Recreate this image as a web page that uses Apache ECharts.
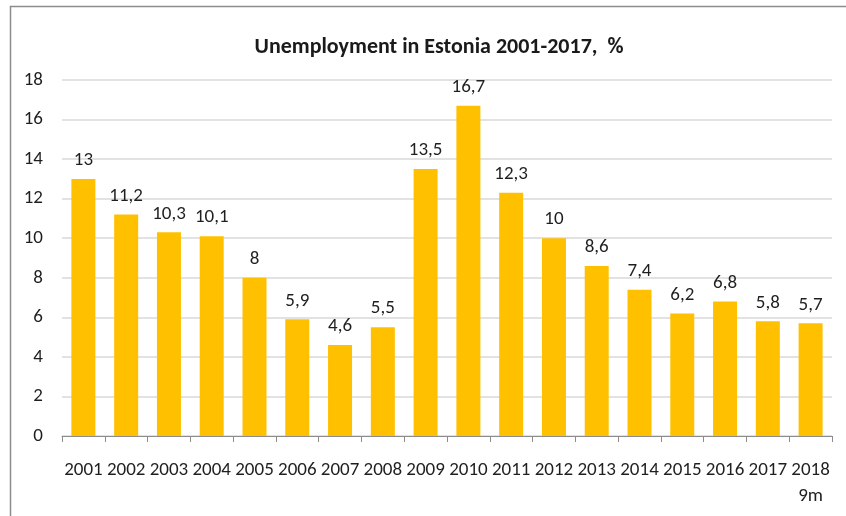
<!DOCTYPE html>
<html>
<head>
<meta charset="utf-8">
<script src="https://cdn.jsdelivr.net/npm/echarts@6/dist/echarts.min.js"></script>
<style>
	html, body { margin: 0; padding: 0; background: #fff; }
	#chart { width: 846px; height: 516px; }
</style>
</head>
<body>
<div id="chart"></div>
<script>
	var years = [ '2001', '2002', '2003', '2004', '2005', '2006', '2007', '2008', '2009', '2010', '2011', '2012', '2013', '2014', '2015', '2016', '2017', '2018\n9m' ];
	var unemployment = [ 13, 11.2, 10.3, 10.1, 8, 5.9, 4.6, 5.5, 13.5, 16.7, 12.3, 10, 8.6, 7.4, 6.2, 6.8, 5.8, 5.7 ];
	var yTicks = [ 0, 2, 4, 6, 8, 10, 12, 14, 16, 18 ];

	var font = 'Calibri, Carlito, "Liberation Sans Narrow", "DejaVu Sans Condensed", sans-serif';

	var chart = echarts.init(document.getElementById('chart'));
	var options = {
		animation : false,
		title : {
			text : 'Unemployment in Estonia 2001-2017,  %',
			left : 434,
			textAlign : 'center',
			top : 31,
			textStyle : {
				fontFamily : font,
				fontSize : 22,
				fontWeight : 'bold',
				color : '#1a1a1a'
			}
		},
		graphic : [ {
			type : 'rect',
			shape : { x : 10.5, y : 6.5, width : 900, height : 600 },
			style : { fill : 'none', stroke : '#8c8c8c', lineWidth : 1.5 },
			silent : true
		} ],
		grid : {
			left : 62,
			right : 14,
			top : 80,
			bottom : 80
		},
		xAxis : [ {
			type : 'category',
			data : years,
			axisLine : { lineStyle : { color : '#8c8c8c', width : 1 } },
			axisTick : { show : true, length : 6, lineStyle : { color : '#8c8c8c' } },
			axisLabel : {
				interval : 0,
				margin : 21,
				fontFamily : font,
				fontSize : 19,
				color : '#1f1f1f',
				lineHeight : 26
			}
		} ],
		yAxis : [ {
			type : 'value',
			min : yTicks[0],
			max : yTicks[yTicks.length - 1],
			interval : 2,
			axisLine : { show : false },
			axisTick : { show : false },
			splitLine : { lineStyle : { color : '#d9d9d9', width : 1.5 } },
			axisLabel : {
				margin : 19,
				fontFamily : font,
				fontSize : 19,
				color : '#1f1f1f'
			}
		} ],
		series : [ {
			type : 'bar',
			data : unemployment,
			barWidth : 24,
			itemStyle : { color : '#ffc000' },
			label : {
				show : true,
				position : 'top',
				distance : 9,
				fontFamily : font,
				fontSize : 19,
				color : '#1f1f1f',
				formatter : function(p) {
					return String(p.value).replace('.', ',');
				}
			}
		} ]
	};
	chart.setOption(options);
</script>
</body>
</html>
